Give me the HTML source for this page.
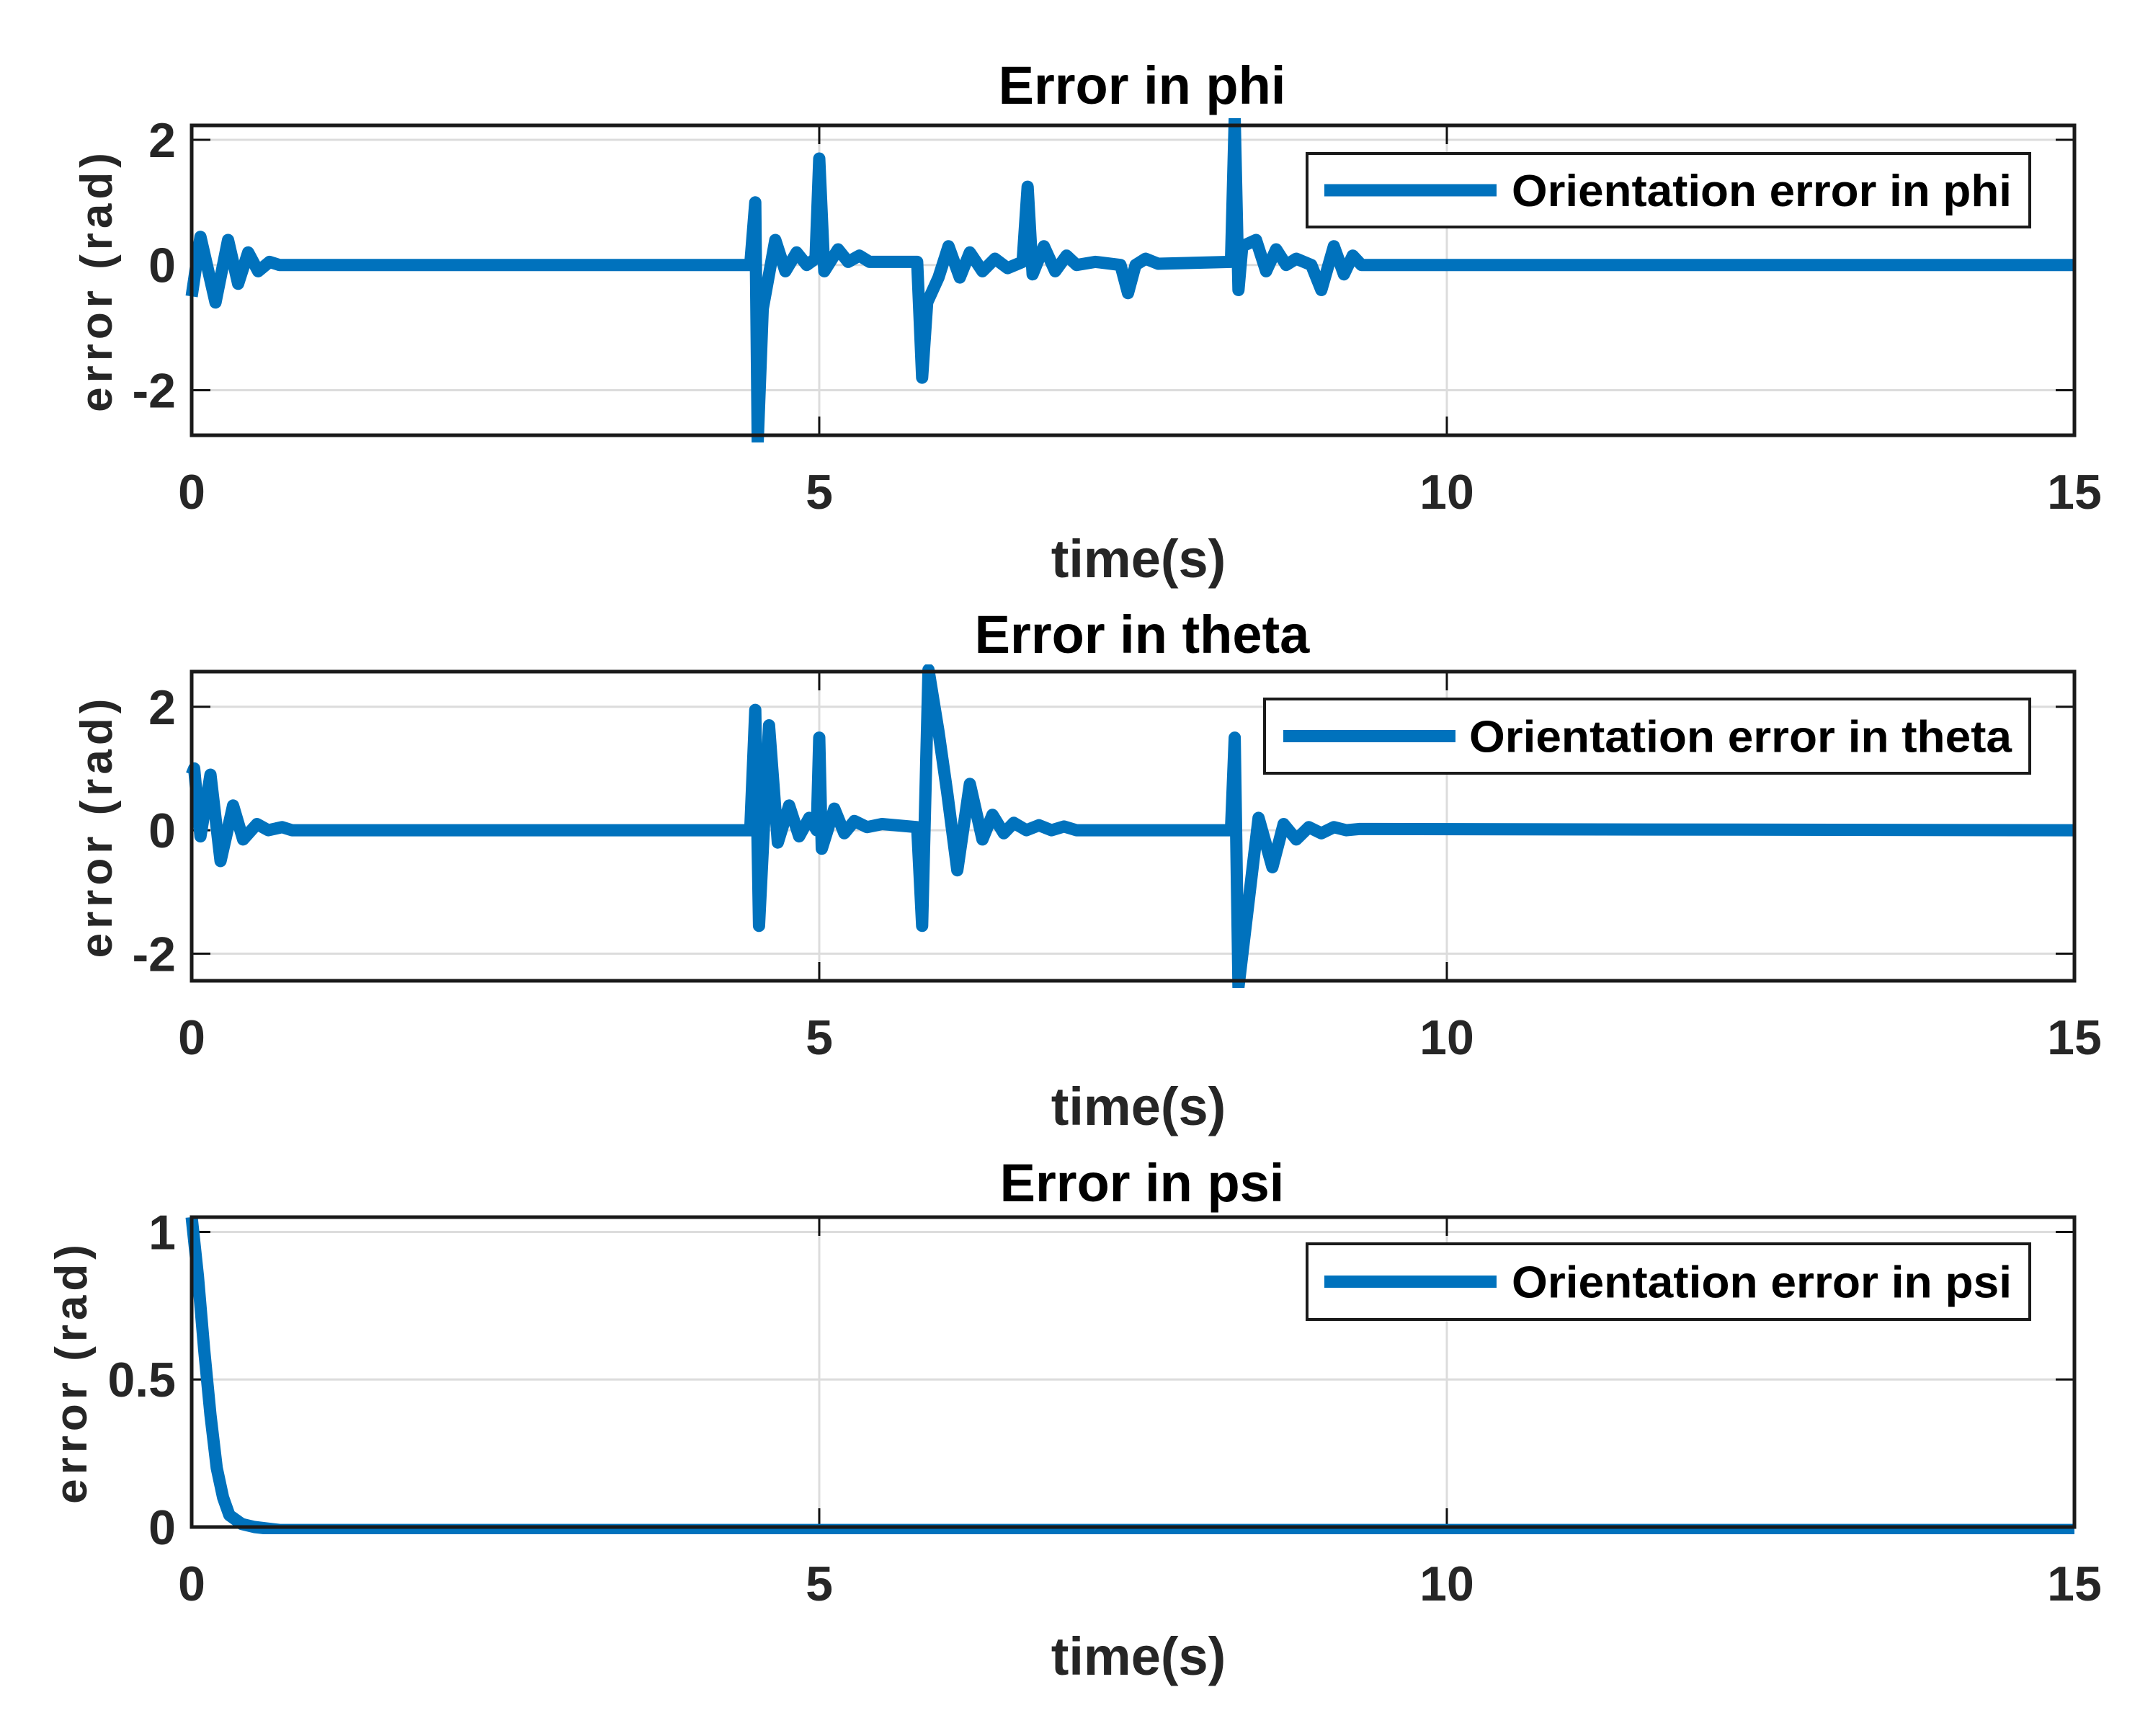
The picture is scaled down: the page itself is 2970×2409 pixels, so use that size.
<!DOCTYPE html>
<html><head><meta charset="utf-8"><style>
html,body{margin:0;padding:0;background:#fff;}
svg{display:block;font-family:"Liberation Sans",Arial,sans-serif;font-weight:bold;}
</style></head>
<body>
<svg id="fig" width="2970" height="2409" viewBox="0 0 2970 2409" xmlns="http://www.w3.org/2000/svg"></svg>
<script>
// ---- data ----
const phiTime  = [0,0.07,0.19,0.29,0.37,0.45,0.53,0.62,0.7,4.45,4.49,4.51,4.55,4.65,4.73,4.82,4.9,4.97,5.0,5.04,5.15,5.23,5.32,5.4,5.78,5.82,5.86,5.95,6.03,6.12,6.2,6.3,6.4,6.5,6.62,6.66,6.7,6.79,6.88,6.97,7.05,7.2,7.4,7.46,7.52,7.6,7.7,8.28,8.31,8.34,8.37,8.48,8.56,8.64,8.72,8.8,8.92,9.0,9.1,9.18,9.25,9.32,15];
const phiValue = [-0.5,0.45,-0.6,0.4,-0.3,0.2,-0.1,0.05,0,0,1.0,-2.9,-0.7,0.4,-0.1,0.2,0.0,0.1,1.7,-0.1,0.25,0.05,0.15,0.05,0.05,-1.8,-0.6,-0.2,0.3,-0.2,0.2,-0.1,0.1,-0.05,0.05,1.25,-0.15,0.3,-0.1,0.15,0.0,0.05,0.0,-0.45,0.0,0.1,0.02,0.05,2.4,-0.4,0.3,0.4,-0.1,0.25,0.0,0.1,0.0,-0.4,0.3,-0.15,0.15,0,0];
const thetaTime  = [0,0.02,0.07,0.15,0.23,0.33,0.41,0.52,0.61,0.72,0.8,4.45,4.49,4.52,4.6,4.67,4.76,4.84,4.92,4.98,5.0,5.02,5.12,5.2,5.28,5.38,5.5,5.78,5.82,5.87,5.95,6.02,6.1,6.2,6.3,6.38,6.47,6.55,6.65,6.75,6.85,6.95,7.05,8.28,8.31,8.34,8.5,8.61,8.7,8.8,8.9,9.0,9.1,9.2,9.3,15];
const thetaValue = [0.9,1.0,-0.1,0.9,-0.5,0.4,-0.15,0.1,0.0,0.05,0,0,1.95,-1.55,1.7,-0.2,0.4,-0.1,0.2,0.0,1.5,-0.3,0.35,-0.05,0.15,0.05,0.1,0.05,-1.55,2.6,1.6,0.6,-0.65,0.75,-0.15,0.25,-0.05,0.12,0.0,0.08,0.0,0.06,0.0,0.0,1.5,-2.6,0.2,-0.6,0.1,-0.15,0.05,-0.05,0.05,0.0,0.02,0];
const psiTime  = [0,0.05,0.1,0.15,0.2,0.25,0.3,0.4,0.5,0.7,15];
const psiValue = [1.05,0.85,0.6,0.38,0.2,0.1,0.04,0.01,0,-0.01,-0.01];
const xTicks = [0,5,10,15];
const xTickLabels = ["0","5","10","15"];
const phiTicks = [-2,0,2];
const thetaTicks = [-2,0,2];
const psiTicks = [0,0.5,1];
const psiTickLabels = ["0","0.5","1"];

const NS="http://www.w3.org/2000/svg";
const svg=document.getElementById('fig');
function mk(tag,attrs,parent){const e=document.createElementNS(NS,tag);for(const k in attrs)e.setAttribute(k,attrs[k]);(parent||svg).appendChild(e);return e;}

const X0=266, X1=2879, XMIN=0, XMAX=15;
function xs(t){return X0+(t-XMIN)/(XMAX-XMIN)*(X1-X0);}

const panels=[
 {key:'phi',title:'Error in phi',top:174,bottom:604,ymin:-2.72,ymax:2.23,ticks:phiTicks,labels:phiTicks.map(String),t:phiTime,v:phiValue,
  leg:{x:1814,y:213,w:1003,h:102,l1:1838,l2:2077,tx:2098,tw:694,text:'Orientation error in phi'},ylx:133,tOff:56,xlOff:171},
 {key:'theta',title:'Error in theta',top:932,bottom:1361,ymin:-2.44,ymax:2.57,ticks:thetaTicks,labels:thetaTicks.map(String),t:thetaTime,v:thetaValue,
  leg:{x:1755,y:970,w:1062,h:103,l1:1781,l2:2020,tx:2039,tw:753,text:'Orientation error in theta'},ylx:133,tOff:52,xlOff:174},
 {key:'psi',title:'Error in psi',top:1689,bottom:2119,ymin:0,ymax:1.05,ticks:psiTicks,labels:psiTickLabels,t:psiTime,v:psiValue,
  leg:{x:1814,y:1726,w:1003,h:105,l1:1838,l2:2077,tx:2098,tw:694,text:'Orientation error in psi'},ylx:98,tOff:48,xlOff:179}
];

panels.forEach((p,i)=>{
  const g=mk('g',{});
  
  
  const ys=v=>p.bottom-(v-p.ymin)/(p.ymax-p.ymin)*(p.bottom-p.top);
  xTicks.forEach(t=>{
    if(t>XMIN&&t<XMAX){const gl=mk('line',{x1:xs(t),x2:xs(t),y1:p.top,y2:p.bottom,stroke:'#dcdcdc','stroke-width':3},g);
    
    }
  });
  p.ticks.forEach(v=>{
    if(v>p.ymin&&v<p.ymax){const gl=mk('line',{x1:X0,x2:X1,y1:ys(v),y2:ys(v),stroke:'#dcdcdc','stroke-width':3},g);
    
    }
  });
  xTicks.forEach(t=>{
    mk('line',{x1:xs(t),x2:xs(t),y1:p.bottom,y2:p.bottom-26,stroke:'#111','stroke-width':3},g);
    mk('line',{x1:xs(t),x2:xs(t),y1:p.top,y2:p.top+26,stroke:'#111','stroke-width':3},g);
  });
  p.ticks.forEach(v=>{
    mk('line',{x1:X0,x2:X0+26,y1:ys(v),y2:ys(v),stroke:'#111','stroke-width':3},g);
    mk('line',{x1:X1,x2:X1-26,y1:ys(v),y2:ys(v),stroke:'#111','stroke-width':3},g);
  });
  const cp=mk('clipPath',{id:'clip'+i},g);
  mk('rect',{x:X0-10,y:p.top-10,width:X1-X0+20,height:p.bottom-p.top+20},cp);
  const d=p.t.map((t,k)=>(k?'L':'M')+xs(t).toFixed(1)+' '+ys(Math.max(p.ymin-0.02*(p.ymax-p.ymin),Math.min(p.ymax+0.02*(p.ymax-p.ymin),p.v[k]))).toFixed(1)).join(' ');
  const path=mk('path',{d:d,fill:'none',stroke:'#0072bd','stroke-width':17,'stroke-linejoin':'round','clip-path':'url(#clip'+i+')'},g);
  
  
  const box=mk('rect',{x:X0,y:p.top,width:X1-X0,height:p.bottom-p.top,fill:'none',stroke:'#1a1a1a','stroke-width':5},g);
  
  
  xTicks.forEach((t,k)=>{
    const tx=mk('text',{x:xs(t),y:p.bottom+102,'font-size':68,'text-anchor':'middle',fill:'#262626'},g);
    tx.textContent=xTickLabels[k];
    
    
  });
  p.ticks.forEach((v,k)=>{
    const tx=mk('text',{x:244,y:ys(v)+24,'font-size':68,'text-anchor':'end',fill:'#262626'},g);
    tx.textContent=p.labels[k];
    
    
  });
  const ti=mk('text',{x:1585,y:p.top-p.tOff+26,'font-size':74,'text-anchor':'middle',fill:'#000'},g);
  ti.textContent=p.title;
  
  
  const xl=mk('text',{x:1580,y:p.bottom+p.xlOff+26,'font-size':74,'text-anchor':'middle',fill:'#262626'},g);
  xl.textContent='time(s)';
  
  
  const cy=(p.top+p.bottom)/2;
  const yl=mk('text',{x:p.ylx,y:cy,'font-size':62,'text-anchor':'middle',fill:'#262626','letter-spacing':6,transform:'rotate(-90 '+p.ylx+' '+cy+')',dy:22},g);
  yl.textContent='error (rad)';
  
  
  const L=p.leg;
  const lg=mk('g',{},g);
  
  
  mk('rect',{x:L.x,y:L.y,width:L.w,height:L.h,fill:'#fff',stroke:'#1a1a1a','stroke-width':4},lg);
  const ly=L.y+L.h/2;
  mk('line',{x1:L.l1,x2:L.l2,y1:ly,y2:ly,stroke:'#0072bd','stroke-width':17},lg);
  const lt=mk('text',{x:L.tx,y:ly+22,'font-size':62,fill:'#000',textLength:L.tw,lengthAdjust:'spacingAndGlyphs'},lg);
  lt.textContent=L.text;
  
  
});
</script>
</body></html>
